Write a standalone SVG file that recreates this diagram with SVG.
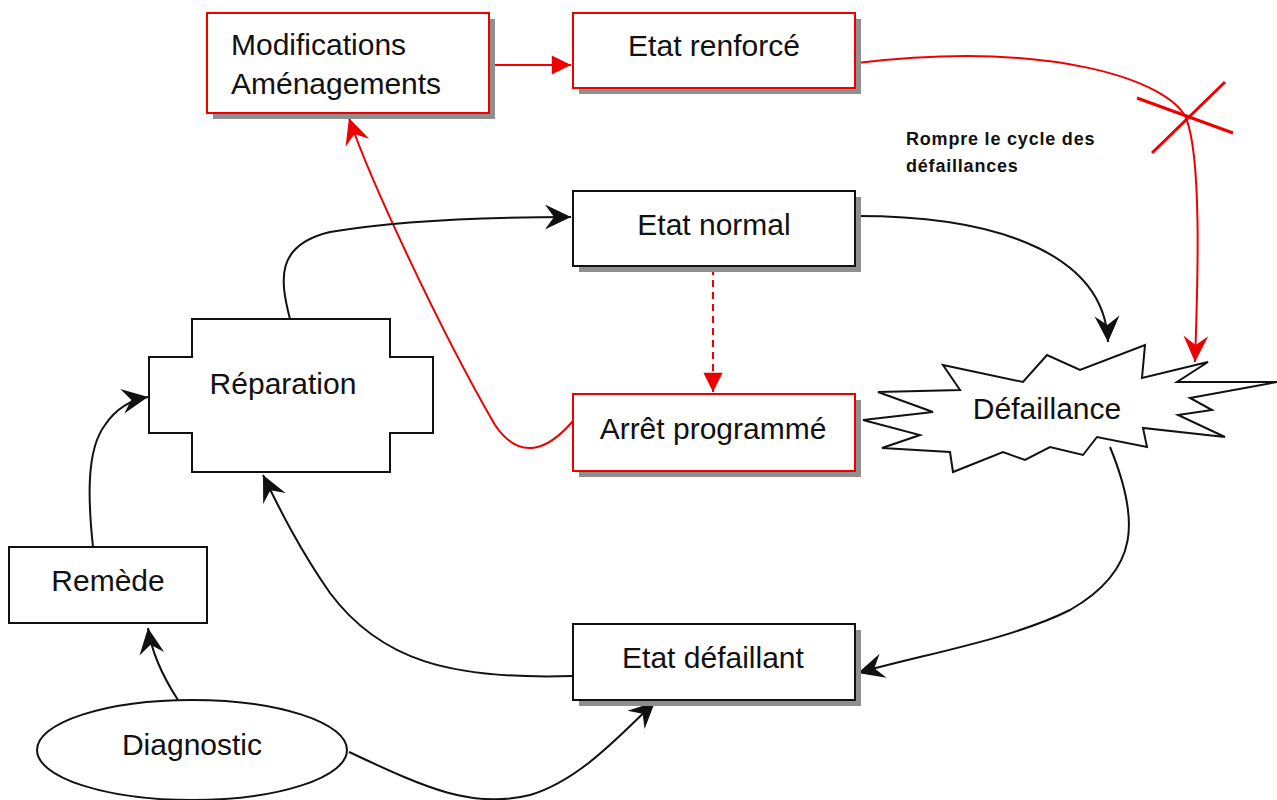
<svg xmlns="http://www.w3.org/2000/svg" width="1277" height="800" viewBox="0 0 1277 800">
<defs>
<style>
.box{fill:#fff;stroke:#111;stroke-width:2}
.rbox{fill:#fff;stroke:#e00;stroke-width:2}
.shadow{fill:#8f8f8f}
.lbl{font-family:"Liberation Sans",Arial,sans-serif;font-size:30px;fill:#111;text-anchor:middle}
.lft{text-anchor:start}
.note{font-family:"Liberation Sans",Arial,sans-serif;font-size:18px;font-weight:bold;fill:#111;letter-spacing:0.8px}
.c{fill:none;stroke:#111;stroke-width:2}
.r{fill:none;stroke:#e00;stroke-width:2}
</style>
<marker id="ab" markerUnits="userSpaceOnUse" markerWidth="34" markerHeight="34" refX="0" refY="0" viewBox="-26 -14 30 28" orient="auto">
<path d="M0,0 L-23,-11 L-15,0 L-23,11 Z" fill="#111"/>
</marker>
<marker id="ar" markerUnits="userSpaceOnUse" markerWidth="34" markerHeight="34" refX="0" refY="0" viewBox="-26 -14 30 28" orient="auto">
<path d="M0,0 L-23,-11 L-15,0 L-23,11 Z" fill="#e00"/>
</marker>
<marker id="at" markerUnits="userSpaceOnUse" markerWidth="24" markerHeight="24" refX="0" refY="0" viewBox="-18 -10 20 20" orient="auto">
<path d="M0,0 L-16,-8 L-16,8 Z" fill="#e00"/>
</marker>
</defs>
<rect width="1277" height="800" fill="#fff"/>

<g id="connectors">
<path class="r" d="M489,65 L571,65" marker-end="url(#at)"/>
<path class="r" d="M857,63 C1050,40 1168,80 1186,118 C1203,160 1197,300 1195,362" marker-end="url(#ar)"/>
<path class="c" d="M857,216 C1010,216 1105,260 1108,342" marker-end="url(#ab)"/>
<path class="r" d="M713,268 L713,392" stroke-dasharray="7,5" marker-end="url(#at)"/>
<path class="r" d="M573,421 C548,450 520,462 495,425 C440,330 370,180 349,118" marker-end="url(#ar)"/>
<path class="c" d="M290,319 C280,280 275,245 330,232 C400,220 500,217 571,217" marker-end="url(#ab)"/>
<path class="c" d="M1110,447 C1140,520 1140,570 1070,610 C1010,640 920,655 858,673" marker-end="url(#ab)"/>
<path class="c" d="M573,676 C450,680 380,660 330,593 C300,550 280,510 263,475" marker-end="url(#ab)"/>
<path class="c" d="M93,547 C88,500 86,450 105,425 C115,410 130,400 148,397" marker-end="url(#ab)"/>
<path class="c" d="M178,700 C165,680 152,655 148,628" marker-end="url(#ab)"/>
<path class="c" d="M349,752 C420,785 470,810 530,795 C580,780 620,735 655,702" marker-end="url(#ab)"/>
<g id="cross" stroke="#e00" stroke-width="3">
<line x1="1137" y1="98" x2="1233" y2="133"/>
<line x1="1225" y1="82" x2="1152" y2="153"/>
</g>
</g>

<g id="modifications">
<rect class="shadow" x="213" y="19" width="282" height="100"/>
<rect class="rbox" x="207" y="13" width="282" height="100"/>
<text class="lbl lft" x="231" y="55">Modifications</text>
<text class="lbl lft" x="231" y="94">Aménagements</text>
</g>

<g id="etat-renforce">
<rect class="shadow" x="579" y="19" width="282" height="75"/>
<rect class="rbox" x="573" y="13" width="282" height="75"/>
<text class="lbl" x="714" y="56">Etat renforcé</text>
</g>

<g id="etat-normal">
<rect class="shadow" x="579" y="197" width="282" height="75"/>
<rect class="box" x="573" y="191" width="282" height="75"/>
<text class="lbl" x="714" y="235">Etat normal</text>
</g>

<g id="arret-programme">
<rect class="shadow" x="579" y="400" width="282" height="77"/>
<rect class="rbox" x="573" y="394" width="282" height="77"/>
<text class="lbl" x="713" y="439">Arrêt programmé</text>
</g>

<g id="etat-defaillant">
<rect class="shadow" x="579" y="630" width="282" height="76"/>
<rect class="box" x="573" y="624" width="282" height="76"/>
<text class="lbl" x="713" y="668">Etat défaillant</text>
</g>

<g id="reparation">
<polygon class="box" points="192,319 390,319 390,357 433,357 433,433 390,433 390,472 192,472 192,433 149,433 149,357 192,357"/>
<text class="lbl" x="283" y="394">Réparation</text>
</g>

<g id="remede">
<rect class="box" x="9" y="547" width="198" height="76"/>
<text class="lbl" x="108" y="591">Remède</text>
</g>

<g id="diagnostic">
<ellipse class="box" cx="192" cy="750" rx="155" ry="50"/>
<text class="lbl" x="192" y="755">Diagnostic</text>
</g>

<g id="defaillance">
<polygon class="box" points="878,392 960,390 943,365 1023,382 1047,355 1080,370 1145,345 1142,378 1208,362 1177,382 1277,382 1190,398 1212,410 1178,415 1225,437 1143,428 1147,447 1097,437 1083,455 1050,447 1025,460 1003,452 953,472 950,452 882,448 920,435 863,420 933,412"/>
<text class="lbl" x="1047" y="419">Défaillance</text>
</g>

<g id="note">
<text class="note" x="906" y="145">Rompre le cycle des</text>
<text class="note" x="906" y="172">défaillances</text>
</g>
</svg>
